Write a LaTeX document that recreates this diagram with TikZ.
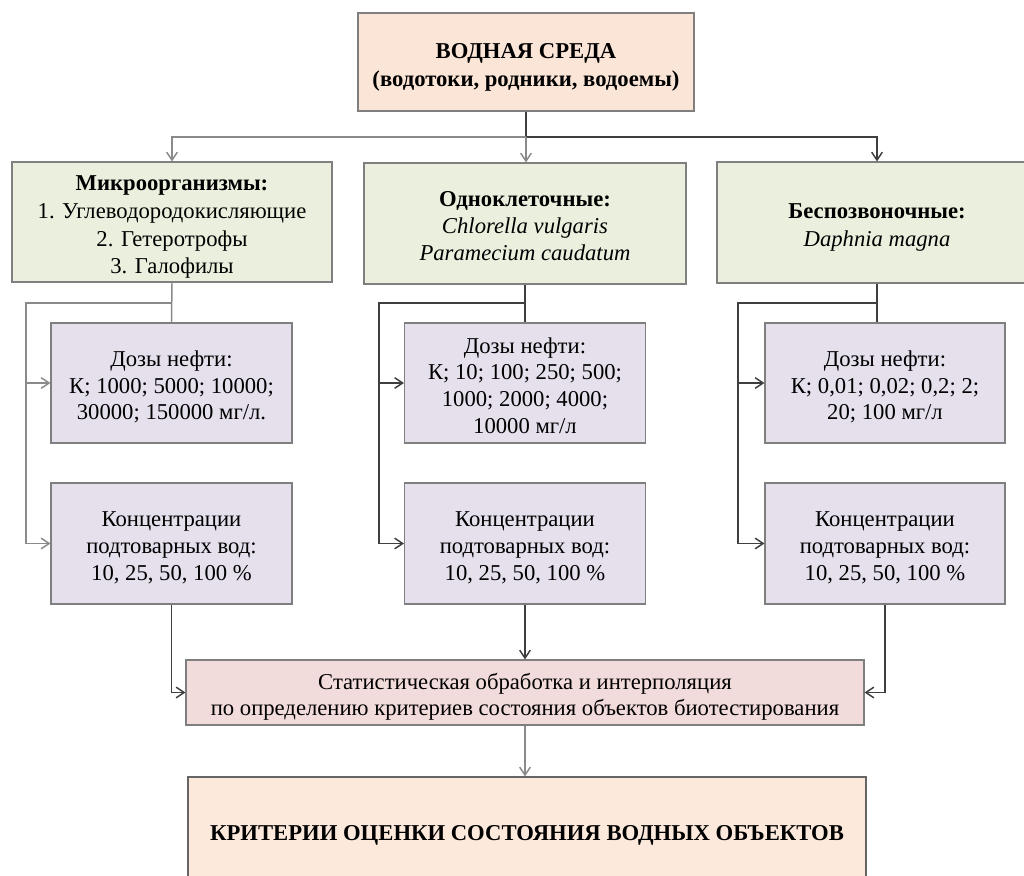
\documentclass[tikz,border=0pt]{standalone}
\usepackage{fontspec}
\setmainfont{Liberation Serif}
\usetikzlibrary{arrows.meta}
\definecolor{peach}{HTML}{FBE5D6}
\definecolor{finalc}{HTML}{FCE9DB}
\definecolor{greenc}{HTML}{EBF0DE}
\definecolor{lav}{HTML}{E5E0EC}
\definecolor{pinkc}{HTML}{F2DCDB}
\definecolor{bord}{HTML}{7F7F7F}
\definecolor{lgray}{HTML}{8A8A8A}
\definecolor{dgray}{HTML}{3F3F3F}
\newcommand{\tx}[1]{\raisebox{-3.5pt}[\height][\depth]{\begin{tabular}{@{}c@{}}#1\end{tabular}}}
\begin{document}
\begin{tikzpicture}[x=0.75pt,y=-0.75pt,
  box/.style={draw=bord, line width=0.8pt, inner sep=0pt, align=center,
    font=\fontsize{17}{20}\selectfont},
  sz/.style 2 args={minimum width=#1*0.75pt, minimum height=#2*0.75pt},
  gr/.style={draw=lgray, line width=1.1pt},
  dk/.style={draw=dgray, line width=1.1pt},
  arr/.style={-{Straight Barb[length=6pt,width=8pt]}}]
\useasboundingbox (0,0) rectangle (1024,875);
\clip (0,0) rectangle (1024,875);
\fill[white] (0,0) rectangle (1024,875);

% boxes
\node[box, fill=peach, sz={336}{98}, font=\fontsize{17}{21}\selectfont\bfseries] (top) at (526,62)
  {\tx{ВОДНАЯ СРЕДА\\(водотоки, родники, водоемы)}};
\node[box, fill=greenc, sz={320}{120}, font=\fontsize{17}{20.8}\selectfont] (g1) at (172,222)
  {\tx{\textbf{Микроорганизмы:}\\1. Углеводородокисляющие\\2. Гетеротрофы\\3. Галофилы}};
\node[box, fill=greenc, sz={322}{121}, font=\fontsize{17}{20}\selectfont] (g2) at (525,223.5)
  {\tx{\textbf{Одноклеточные:}\\\textit{Chlorella vulgaris}\\\textit{Paramecium caudatum}}};
\node[box, fill=greenc, sz={320}{121}, font=\fontsize{17}{21}\selectfont] (g3) at (877,222.5)
  {\tx{\textbf{Беспозвоночные:}\\\textit{Daphnia magna}}};

\node[box, fill=lav, sz={241}{120}] (d1) at (171.5,383)
  {\tx{Дозы нефти:\\К; 1000; 5000; 10000;\\30000; 150000 мг/л.}};
\node[box, fill=lav, sz={241}{121}] (c1) at (171.5,543.5)
  {\tx{Концентрации\\подтоварных вод:\\10, 25, 50, 100 \%}};
\node[box, fill=lav, sz={241}{120}] (d2) at (525,383)
  {\tx{Дозы нефти:\\К; 10; 100; 250; 500;\\1000; 2000; 4000;\\10000 мг/л}};
\node[box, fill=lav, sz={241}{121}] (c2) at (525,543.5)
  {\tx{Концентрации\\подтоварных вод:\\10, 25, 50, 100 \%}};
\node[box, fill=lav, sz={240}{120}] (d3) at (885,383)
  {\tx{Дозы нефти:\\К; 0,01; 0,02; 0,2; 2;\\20; 100 мг/л}};
\node[box, fill=lav, sz={240}{121}] (c3) at (885,543.5)
  {\tx{Концентрации\\подтоварных вод:\\10, 25, 50, 100 \%}};

\node[box, fill=pinkc, sz={678}{65}] (stats) at (525,692.5)
  {\tx{Статистическая обработка и интерполяция\\по определению критериев состояния объектов биотестирования}};
\node[box, fill=finalc, draw=dgray!80, sz={678}{106}, font=\fontsize{17}{20.5}\selectfont\bfseries] (final) at (527,830)
  {\tx{КРИТЕРИИ ОЦЕНКИ СОСТОЯНИЯ ВОДНЫХ ОБЪЕКТОВ}};

% top connectors
\coordinate (hub) at (526,137);
\draw[dk] (top.south) -- (hub);
\draw[dk,arr] (hub) -| (g3.north);
\draw[gr,arr] (hub) -| (g1.north);
\draw[gr,arr] (hub) -- (hub |- g2.north);

% left column
\coordinate (l1) at (26,303);
\draw[gr] (g1.south) -- (d1.north);
\draw[gr,arr] (g1.south |- l1) -- (l1) |- (c1.west);
\draw[gr,arr] (l1 |- d1.west) -- (d1.west);
\draw[dk,arr] (c1.south) |- (stats.west);

% middle column
\coordinate (l2) at (379,303);
\draw[dk] (g2.south) -- (d2.north);
\draw[dk,arr] (g2.south |- l2) -- (l2) |- (c2.west);
\draw[dk,arr] (l2 |- d2.west) -- (d2.west);
\draw[dk,arr] (c2.south) -- (c2.south |- stats.north);

% right column
\coordinate (l3) at (738,303);
\draw[dk] (g3.south) -- (g3.south |- d3.north);
\draw[dk,arr] (g3.south |- l3) -- (l3) |- (c3.west);
\draw[dk,arr] (l3 |- d3.west) -- (d3.west);
\draw[dk,arr] (c3.south) |- (stats.east);

% to final
\draw[gr,arr] (stats.south) -- (stats.south |- final.north);
\end{tikzpicture}
\end{document}
